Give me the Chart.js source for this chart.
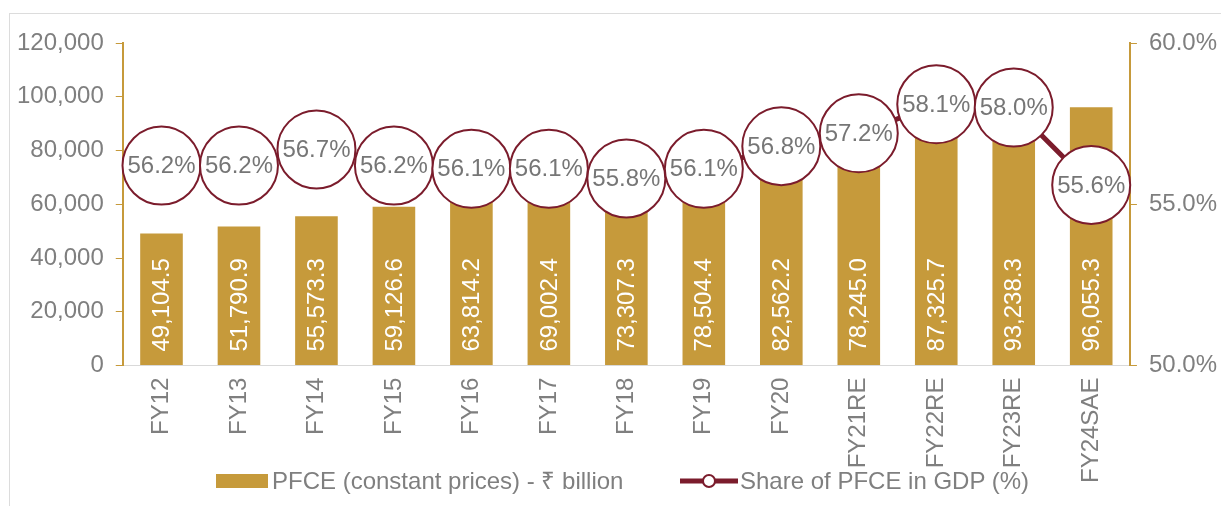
<!DOCTYPE html>
<html>
<head>
<meta charset="utf-8">
<script src="https://cdn.jsdelivr.net/npm/chart.js@4.4.1/dist/chart.umd.min.js"></script>
<style>
  body { margin: 0; background: #fff; }
  #wrap { position: relative; width: 1221px; height: 506px; overflow: hidden; }
  #frame { position: absolute; left: 9px; top: 13px; right: -5px; bottom: -5px;
           border-top: 1px solid #dcdcdc; border-left: 1px solid #dcdcdc; }
  .lg { position: absolute; font: 24px "Liberation Sans", Arial, sans-serif; color: #7f7f7f;
        line-height: 24px; white-space: nowrap; }
</style>
</head>
<body>
<div id="wrap">
  <div id="frame"></div>
  <canvas id="grafik" width="1221" height="506"></canvas>
  <div style="position:absolute;left:216px;top:474px;width:52px;height:14px;background:#C69A3B"></div>
  <div class="lg" style="left:272px;top:469px">PFCE (constant prices) - ₹ billion</div>
  <svg style="position:absolute;left:678px;top:472px" width="64" height="18">
    <line x1="2" y1="9" x2="60" y2="9" stroke="#7B1C2C" stroke-width="5"/>
    <circle cx="31" cy="9" r="6" fill="#fff" stroke="#7B1C2C" stroke-width="2"/>
  </svg>
  <div class="lg" style="left:740px;top:469px">Share of PFCE in GDP (%)</div>
</div>
<script>
const kategori = ["FY12", "FY13", "FY14", "FY15", "FY16", "FY17", "FY18", "FY19", "FY20", "FY21RE", "FY22RE", "FY23RE", "FY24SAE"];
const pfce = [49104.5, 51790.9, 55573.3, 59126.6, 63814.2, 69002.4, 73307.3, 78504.4, 82562.2, 78245.0, 87325.7, 93238.3, 96055.3];
const sharePfce = [56.2, 56.2, 56.7, 56.2, 56.1, 56.1, 55.8, 56.1, 56.8, 57.2, 58.1, 58.0, 55.6];
const tickKiri = [0, 20000, 40000, 60000, 80000, 100000, 120000];
const tickKanan = [50, 55, 60];

const emas = "#C69A3B";
const merah = "#7B1C2C";
const abu = "#7f7f7f";
const huruf = '"Liberation Sans", Arial, sans-serif';

// label angka di batang dan di lingkaran
const labelPlugin = {
  id: "labelPlugin",
  afterDatasetsDraw(chart) {
    const ctx = chart.ctx;
    const yKiri = chart.scales.y;
    ctx.save();
    ctx.font = "24px " + huruf;

    const batang = chart.getDatasetMeta(1);
    ctx.fillStyle = "#ffffff";
    batang.data.forEach((el, i) => {
      const teks = pfce[i].toLocaleString("en-US", { minimumFractionDigits: 1, maximumFractionDigits: 1 });
      ctx.save();
      ctx.translate(el.x, yKiri.getPixelForValue(0) - 14);
      ctx.rotate(-Math.PI / 2);
      ctx.textAlign = "left";
      ctx.textBaseline = "middle";
      ctx.fillText(teks, 0, 1);
      ctx.restore();
    });

    const garis = chart.getDatasetMeta(0);
    ctx.fillStyle = "#767676";
    ctx.textAlign = "center";
    ctx.textBaseline = "middle";
    garis.data.forEach((el, i) => {
      ctx.fillText(sharePfce[i].toFixed(1) + "%", el.x, el.y + 1);
    });
    ctx.restore();
  }
};

const ctx = document.getElementById("grafik").getContext("2d");
new Chart(ctx, {
  type: "bar",
  data: {
    labels: kategori,
    datasets: [
      {
        type: "line",
        label: "Share of PFCE in GDP (%)",
        data: sharePfce,
        yAxisID: "y1",
        borderColor: merah,
        borderWidth: 5,
        pointRadius: 39,
        pointHoverRadius: 39,
        pointBorderWidth: 2,
        pointBackgroundColor: "#ffffff",
        pointBorderColor: merah,
        tension: 0,
        clip: false,
        order: 0
      },
      {
        label: "PFCE (constant prices) - ₹ billion",
        data: pfce,
        yAxisID: "y",
        backgroundColor: emas,
        barPercentage: 0.55,
        categoryPercentage: 1.0,
        order: 1
      }
    ]
  },
  options: {
    responsive: false,
    animation: false,
    events: [],
    layout: { padding: { top: 43, left: 5, right: -8, bottom: 11 } },
    plugins: {
      legend: { display: false },
      tooltip: { enabled: false }
    },
    scales: {
      x: {
        grid: { display: false, drawTicks: false, tickLength: 0 },
        border: { display: true, color: "#d9d9d9", width: 1 },
        ticks: {
          color: abu,
          font: { size: 24, family: huruf },
          minRotation: 90,
          maxRotation: 90,
          padding: 12,
          autoSkip: false
        }
      },
      y: {
        position: "left",
        min: 0,
        max: 120000,
        afterBuildTicks: (ax) => { ax.ticks = tickKiri.map(v => ({ value: v })); },
        grid: { drawOnChartArea: false, color: emas, tickLength: 7 },
        border: { display: true, color: emas, width: 2 },
        ticks: {
          color: abu,
          font: { size: 24, family: huruf },
          padding: 12,
          callback: (v) => v.toLocaleString("en-US")
        }
      },
      y1: {
        position: "right",
        min: 50,
        max: 60,
        afterBuildTicks: (ax) => { ax.ticks = tickKanan.map(v => ({ value: v })); },
        grid: { drawOnChartArea: false, color: emas, tickLength: 7 },
        border: { display: true, color: emas, width: 2 },
        ticks: {
          color: abu,
          font: { size: 24, family: huruf },
          padding: 12,
          callback: (v) => v.toFixed(1) + "%"
        }
      }
    }
  },
  plugins: [labelPlugin]
});
</script>
</body>
</html>
